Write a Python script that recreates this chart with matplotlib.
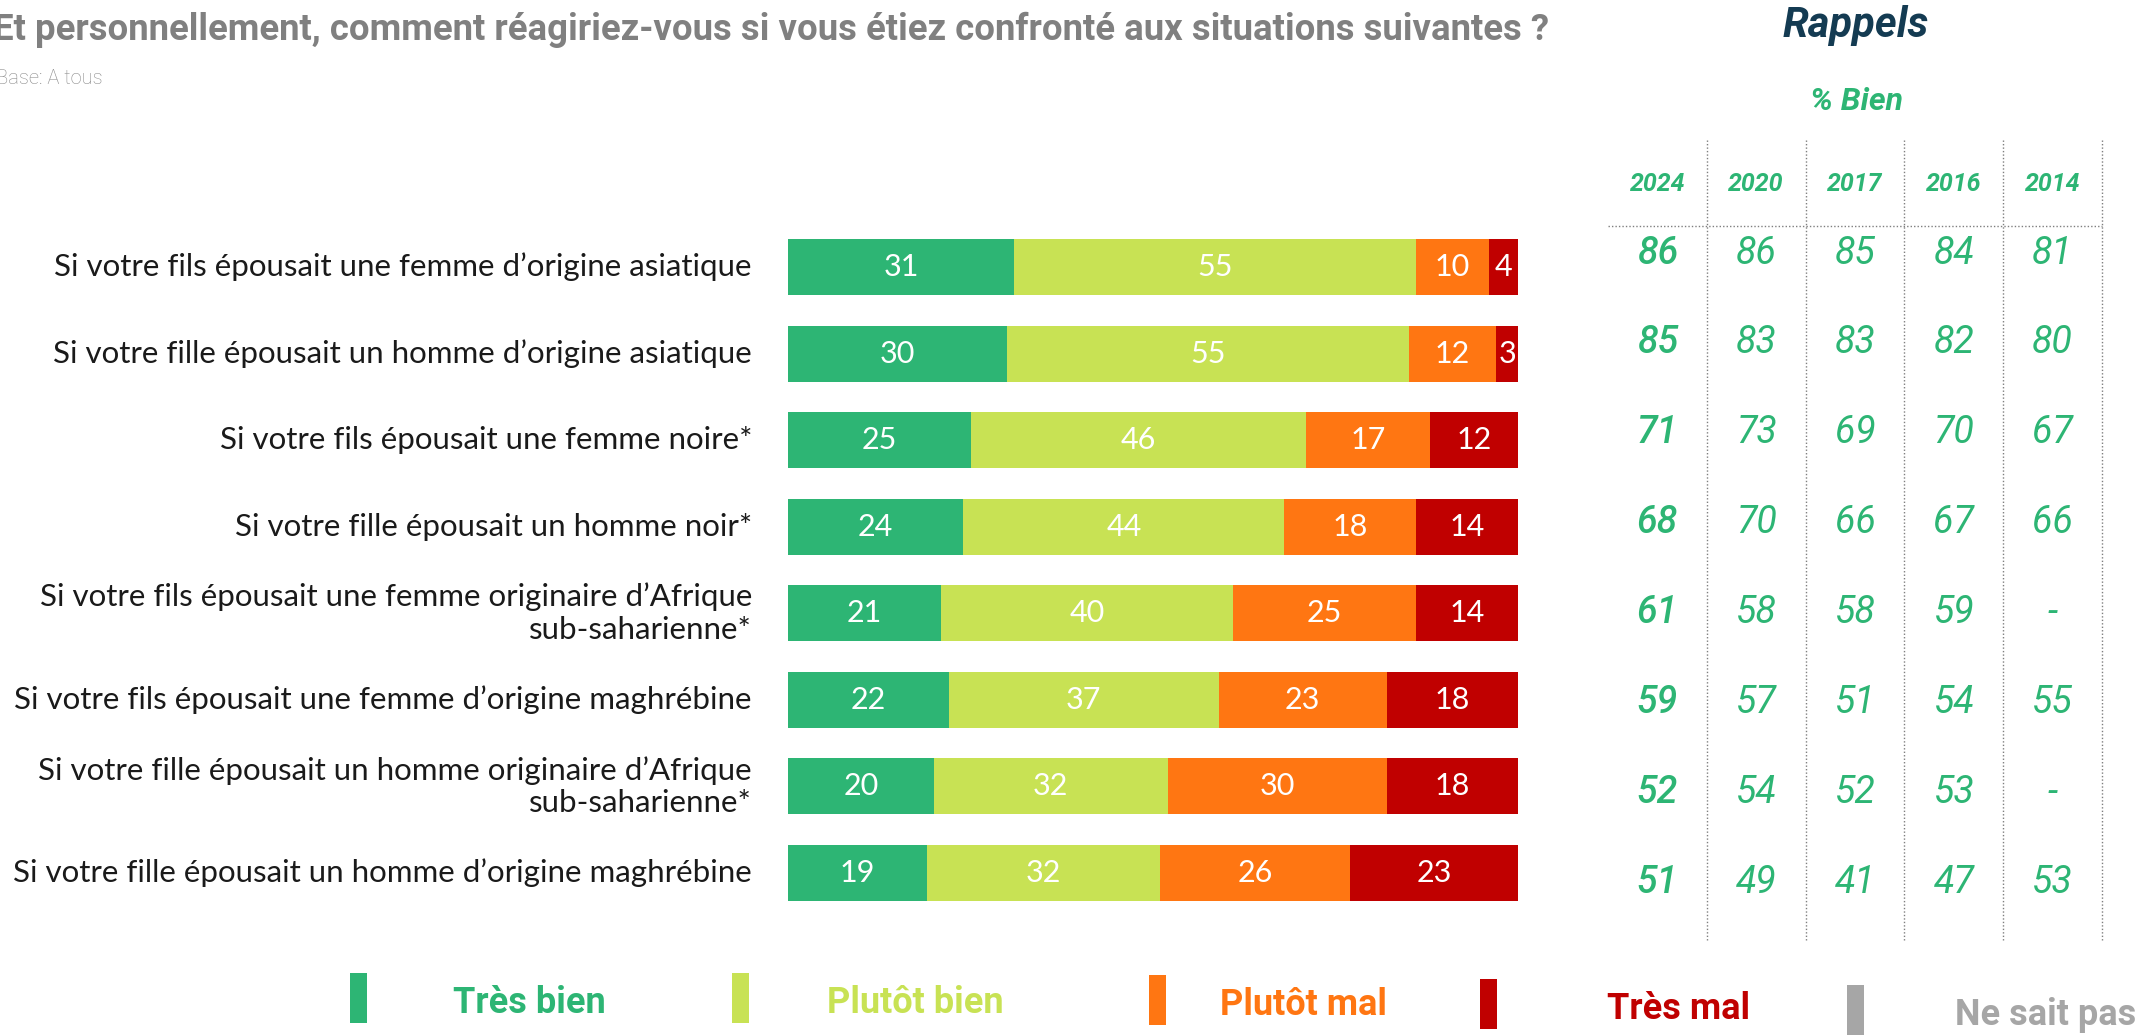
import matplotlib.pyplot as plt
from matplotlib.patches import Rectangle
from matplotlib.transforms import blended_transform_factory

# --- Data ---
categories = [
    "Si votre fils épousait une femme d’origine asiatique",
    "Si votre fille épousait un homme d’origine asiatique",
    "Si votre fils épousait une femme noire*",
    "Si votre fille épousait un homme noir*",
    "Si votre fils épousait une femme originaire d’Afrique\nsub-saharienne*",
    "Si votre fils épousait une femme d’origine maghrébine",
    "Si votre fille épousait un homme originaire d’Afrique\nsub-saharienne*",
    "Si votre fille épousait un homme d’origine maghrébine",
]
tres_bien = [31, 30, 25, 24, 21, 22, 20, 19]
plutot_bien = [55, 55, 46, 44, 40, 37, 32, 32]
plutot_mal = [10, 12, 17, 18, 25, 23, 30, 26]
tres_mal = [4, 3, 12, 14, 14, 18, 18, 23]

years = ["2024", "2020", "2017", "2016", "2014"]
bien_2024 = [86, 85, 71, 68, 61, 59, 52, 51]
bien_2020 = [86, 83, 73, 70, 58, 57, 54, 49]
bien_2017 = [85, 83, 69, 66, 58, 51, 52, 41]
bien_2016 = [84, 82, 70, 67, 59, 54, 53, 47]
bien_2014 = [81, 80, 67, 66, None, 55, None, 53]

legend_labels = ["Très bien", "Plutôt bien", "Plutôt mal", "Très mal", "Ne sait pas"]
colors = ["#2DB574", "#C8E254", "#FF7612", "#C00000", "#A6A6A6"]

W, H = 2149, 1035
TXT = "#2DB574"
FONT = ["Roboto", "DejaVu Sans"]
LABEL_FONT = ["Lato", "DejaVu Sans"]

fig = plt.figure(figsize=(W / 100, H / 100), dpi=100)

# overlay axes in pixel units for text and table lines
ov = fig.add_axes([0, 0, 1, 1])
ov.set_xlim(0, W)
ov.set_ylim(H, 0)
ov.axis("off")

# --- Bars ---
top, bottom = 223.7, 916.3
ax = fig.add_axes([788 / W, (H - bottom) / H, 730 / W, (bottom - top) / H])
ax.set_xlim(0, 100)
ax.set_ylim(len(categories) - 0.5, -0.5)
ax.axis("off")

ypos = list(range(len(categories)))
left = [0] * len(categories)
for vals, col in zip([tres_bien, plutot_bien, plutot_mal, tres_mal], colors):
    ax.barh(ypos, vals, left=left, height=0.647, color=col, linewidth=0)
    for y, v, l in zip(ypos, vals, left):
        ax.text(l + v / 2, y, str(v), ha="center", va="center", color="white",
                fontsize=22, family=LABEL_FONT)
    left = [a + b for a, b in zip(left, vals)]

# category labels
lab_tr = blended_transform_factory(ov.transData, ax.transData)
for y, cat in zip(ypos, categories):
    ov.text(752, y, cat, transform=lab_tr, ha="right", va="center",
            multialignment="right", fontsize=22.5, color="#1a1a1a",
            family=LABEL_FONT, linespacing=1.2)

# --- Title ---
ov.text(-7, 30, "Et personnellement, comment réagiriez-vous si vous étiez confronté aux situations suivantes ?",
        ha="left", va="center", fontsize=26.3, fontweight="bold", color="#808080", family=FONT)
ov.text(-4, 79, "Base: A tous", ha="left", va="center", fontsize=14.5,
        fontweight="light", color="#8a8a8a", family=FONT)

# --- Rappels table ---
ov.text(1856, 25, "Rappels", ha="center", va="center", fontsize=30, fontweight="bold",
        style="italic", color="#143B52", family=FONT)
ov.text(1856, 102, "% Bien", ha="center", va="center", fontsize=23, fontweight="bold",
        style="italic", color=TXT, family=FONT)

col_left, col_w = 1608, 98.8
row_top, row_step = 253, 89.9
for i in range(len(years)):
    ov.vlines(col_left + (i + 1) * col_w, 140, 942, color="#7f7f7f",
              linestyle=(0, (1, 1.5)), linewidth=1)
ov.hlines(226, col_left, col_left + len(years) * col_w, color="#7f7f7f",
          linestyle=(0, (1, 1.5)), linewidth=1)

columns = [bien_2024, bien_2020, bien_2017, bien_2016, bien_2014]
for i, (yr, vals) in enumerate(zip(years, columns)):
    cx = col_left + (i + 0.5) * col_w
    ov.text(cx, 184, yr, ha="center", va="center", fontsize=18, fontweight="bold",
            style="italic", color=TXT, family=FONT)
    for r, v in enumerate(vals):
        ov.text(cx, row_top + r * row_step, "-" if v is None else str(v),
                ha="center", va="center", fontsize=27, style="italic",
                fontweight="medium" if i == 0 else "normal", color=TXT, family=FONT)

# --- Legend ---
leg_patch_x = [350, 732, 1149, 1480, 1847]
leg_patch_y = [973, 973, 975, 979, 985]
leg_text_x = [453, 827, 1220, 1607, 1955]
for lab, col, px, py, tx in zip(legend_labels, colors, leg_patch_x, leg_patch_y, leg_text_x):
    ov.add_patch(Rectangle((px, py), 17, 50, color=col, linewidth=0))
    ov.text(tx, py + 30, lab, ha="left", va="center", fontsize=26, fontweight="bold",
            color=col, family=FONT)

fig.savefig("out.png", dpi=100)
